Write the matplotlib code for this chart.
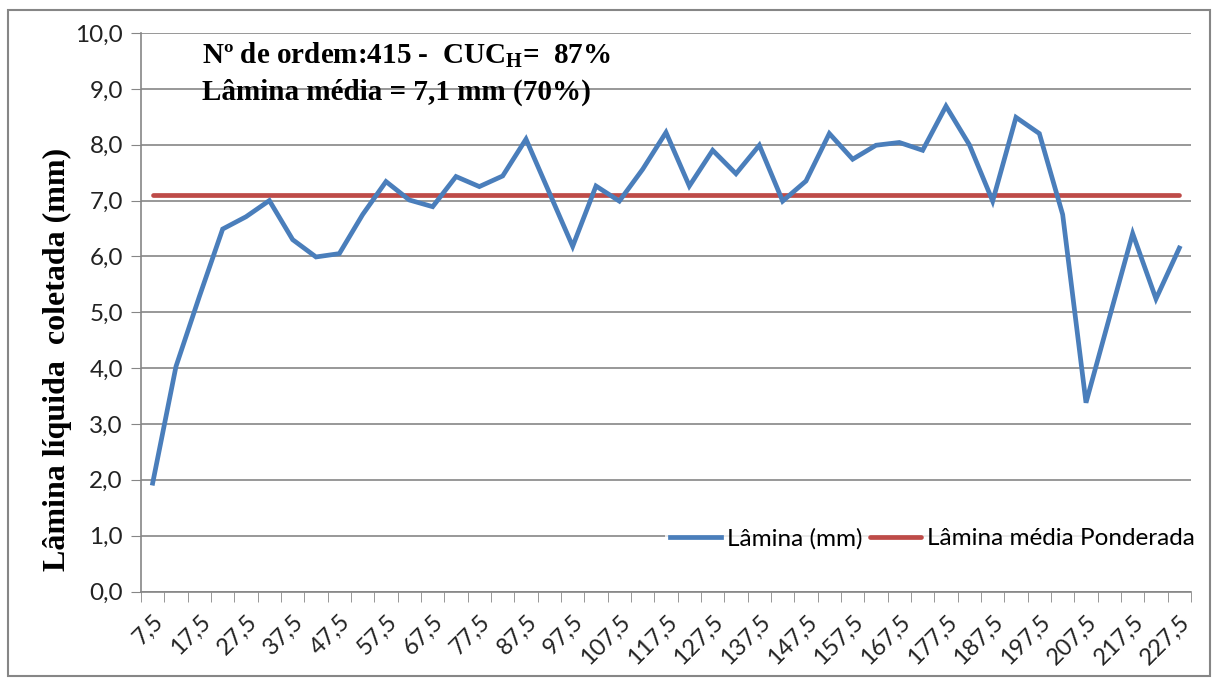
import matplotlib
matplotlib.use("Agg")
import matplotlib.pyplot as plt
from matplotlib.patches import Rectangle
from matplotlib.ticker import FixedLocator

plt.rcParams["mathtext.fontset"] = "custom"
plt.rcParams["mathtext.bf"] = "Liberation Serif:bold"
plt.rcParams["mathtext.rm"] = "Liberation Serif"

# distancias (m) e lamina coletada (mm)
distancias = [7.5 + 5 * i for i in range(45)]
lamina = [1.94, 4.03, 5.28, 6.49, 6.71, 7.0, 6.3, 5.99, 6.05, 6.75,
          7.34, 7.01, 6.89, 7.43, 7.25, 7.44, 8.1, 7.14, 6.18, 7.26,
          6.99, 7.56, 8.22, 7.26, 7.9, 7.48, 7.99, 6.99, 7.35, 8.2,
          7.74, 7.99, 8.04, 7.9, 8.69, 8.0, 6.99, 8.49, 8.2, 6.75,
          3.38, 4.9, 6.41, 5.24, 6.15]
lamina_media = 7.1
tick_labels = [f"{d:.1f}".replace(".", ",") for d in distancias]

fig = plt.figure(figsize=(12.17, 6.83), dpi=100)
ax = fig.add_axes([141 / 1217, 1 - 591.5 / 683, 1050 / 1217, (591.5 - 33) / 683])

x = list(range(len(distancias)))
ax.plot(x, lamina, color="#4A7EBB", lw=3.4, solid_joinstyle="miter", label="Lâmina (mm)", zorder=3)
ax.plot(x, [lamina_media] * len(x), color="#BE4B48", lw=3.4, solid_capstyle="round",
        label="Lâmina média Ponderada", zorder=2)

ax.set_xlim(-0.5, len(x) - 0.5)
ax.set_ylim(0, 10)
ax.set_yticks([i for i in range(11)])
ax.set_yticklabels([f"{i},0" for i in range(11)], fontsize=17.5, family="Lato", color="#222222")
ax.set_xticks(x[::2])
ax.set_xticklabels(tick_labels[::2], rotation=45, ha="right", rotation_mode="anchor",
                   fontsize=17, family="Lato", color="#222222")
ax.xaxis.set_minor_locator(FixedLocator([i - 0.5 for i in range(len(x) + 1)]))
ax.tick_params(axis="x", which="major", length=0, pad=14)
ax.tick_params(axis="x", which="minor", length=7, color="#868686", direction="out")
ax.tick_params(axis="y", length=7, color="#868686", direction="out", pad=6)
ax.grid(axis="y", color="#868686", lw=1.2)
ax.set_axisbelow(True)
for s in ["top", "right"]:
    ax.spines[s].set_visible(False)
for s in ["left", "bottom"]:
    ax.spines[s].set_color("#868686")
    ax.spines[s].set_linewidth(1.2)

ax.set_ylabel("Lâmina líquida  coletada (mm)", family="Liberation Serif", fontweight="bold",
              fontsize=23)
ax.yaxis.set_label_coords(-0.066, 0.415)

ax.text(0.058, 0.96, "Nº de ordem:415 -  CUC$_\\mathbf{H}$=  87%", transform=ax.transAxes,
        family="Liberation Serif", fontweight="bold", fontsize=21, va="center")
ax.text(0.058, 0.893, "Lâmina média = 7,1 mm (70%)", transform=ax.transAxes,
        family="Liberation Serif", fontweight="bold", fontsize=21, va="center")

leg = ax.legend(loc="lower right", bbox_to_anchor=(1.02, 0.045), ncol=2, frameon=True,
                facecolor="white", edgecolor="none", fancybox=False, prop={"family": "Lato", "size": 17.5},
                handlelength=2.1, handletextpad=0.25, columnspacing=0.3, borderpad=0.2)

fig.patches.append(Rectangle((8 / 1217, 1 - 676 / 683), 1202 / 1217, 666 / 683,
                             transform=fig.transFigure, fill=False, edgecolor="#868686", lw=1.5))

fig.savefig("out.png", dpi=100)
